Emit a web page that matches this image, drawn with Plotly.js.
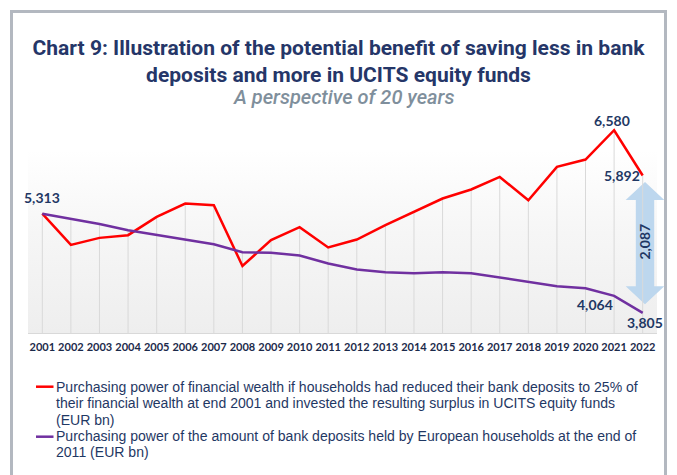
<!DOCTYPE html>
<html>
<head>
<meta charset="utf-8">
<script src="https://cdn.plot.ly/plotly-3.0.1.min.js"></script>
<style>
  html, body { margin: 0; padding: 0; background: #ffffff; }
  #wrap { position: relative; width: 677px; height: 475px; overflow: hidden; background: #ffffff; }
  #frame { position: absolute; left: 10px; top: 10px; width: 657px; height: 520px; border: 3px solid #b3b8c0; box-sizing: border-box; }
  #grad { position: absolute; left: 28px; top: 150px; width: 629px; height: 183px;
          background: linear-gradient(to bottom, #ffffff 0%, #f6f6f6 45%, #eeeeee 100%); }
  #chart { position: absolute; left: 0; top: 0; width: 677px; height: 475px; }
</style>
</head>
<body>
<div id="wrap">
  <div id="frame"></div>
  <div id="grad"></div>
  <div id="chart"></div>
</div>
<script>
// ---- data ----
const years = [2001, 2002, 2003, 2004, 2005, 2006, 2007, 2008, 2009, 2010, 2011,
               2012, 2013, 2014, 2015, 2016, 2017, 2018, 2019, 2020, 2021, 2022];
const investedWealth = [5313, 4838, 4945, 4986, 5264, 5467, 5441, 4519, 4910, 5107, 4799,
                        4920, 5137, 5340, 5543, 5680, 5871, 5517, 6023, 6135, 6580, 5892];
const bankDeposits = [5313, 5239, 5157, 5062, 4990, 4910, 4849, 4727, 4720, 4677, 4556,
                      4465, 4424, 4408, 4424, 4408, 4343, 4272, 4211, 4181, 4064, 3805];
const investedLines = ['Purchasing power of financial wealth if households had reduced their bank deposits to 25% of',
                       'their financial wealth at end 2001 and invested the resulting surplus in UCITS equity funds',
                       '(EUR bn)'];
const depositsLines = ['Purchasing power of the amount of bank deposits held by European households at the end of',
                       '2011 (EUR bn)'];
const titleText = 'Chart 9: Illustration of the potential benefit of saving less in bank<br>deposits and more in UCITS equity funds';
const subtitleText = 'A perspective of 20 years';

// ---- layout geometry ----
const W = 677, H = 475;
const M = { l: 28, r: 20, t: 110, b: 142 };
const plotW = W - M.l - M.r, plotH = H - M.t - M.b;
const yMin = 3500, pxPerUnit = 1 / 15.19;
const yMax = yMin + plotH / pxPerUnit;
const px = x => (x - M.l) / plotW;          // page px -> paper x
const py = y => (H - M.b - y) / plotH;      // page px -> paper y

const navy = '#1f3864';
const fmt = v => v.toLocaleString('en-US');

function fitSize(text, family, weight, style, base, target) {
  const c = document.createElement('canvas').getContext('2d');
  c.font = style + ' ' + weight + ' ' + base + 'px ' + family;
  return base * target / c.measureText(text).width;
}
const titleFamily = "'Liberation Sans Narrow', Roboto, sans-serif";
const titleSize = Math.min(21.5, fitSize('Chart 9: Illustration of the potential benefit of saving less in bank', titleFamily, 'bold', 'normal', 20, 612));
const subFamily = "Roboto, 'Liberation Sans', sans-serif";
const subSize = Math.min(20, fitSize(subtitleText, subFamily, '500', 'italic', 18, 242));
const legFamily = "'Liberation Sans', Arial, sans-serif";
const legSize = fitSize(investedLines[0], legFamily, 'normal', 'normal', 13, 582);
const lblFamily = "Lato, 'Open Sans', sans-serif";

// ---- traces ----
const dropX = [], dropY = [];
years.forEach((yr, i) => {
  dropX.push(yr, yr, null);
  dropY.push(yMin, Math.max(investedWealth[i], bankDeposits[i]), null);
});

const traces = [
  { x: dropX, y: dropY, type: 'scatter', mode: 'lines', line: { color: '#d9d9d9', width: 1 },
    hoverinfo: 'skip', showlegend: false },
  { x: years, y: investedWealth, type: 'scatter', mode: 'lines', name: investedLines.join(' '),
    line: { color: '#ff0000', width: 2.5 }, showlegend: false },
  { x: years, y: bankDeposits, type: 'scatter', mode: 'lines', name: depositsLines.join(' '),
    line: { color: '#7030a0', width: 2.5 }, showlegend: false }
];

// ---- annotations ----
const n = years.length;
const lblFont = { family: lblFamily, size: 14, color: navy, weight: 'bold' };
function dataLabel(i, series, dx, dy) {
  return { x: years[i], y: series[i], xref: 'x', yref: 'y', text: fmt(series[i]), showarrow: false,
           xanchor: 'center', yanchor: 'middle', xshift: dx, yshift: dy, font: lblFont };
}
const gap = investedWealth[n - 1] - bankDeposits[n - 1];
const annotations = [
  dataLabel(0, investedWealth, 0, 16),
  dataLabel(n - 2, investedWealth, -2, 10),
  dataLabel(n - 1, investedWealth, -21, 0),
  dataLabel(n - 2, bankDeposits, -19, -9),
  dataLabel(n - 1, bankDeposits, 2, -10),
  { x: px(645), y: (investedWealth[n - 1] + bankDeposits[n - 1]) / 2 + 40, xref: 'paper', yref: 'y',
    text: fmt(gap), textangle: -90, showarrow: false, xanchor: 'center', yanchor: 'middle', font: lblFont },
  { x: px(344), y: py(97), xref: 'paper', yref: 'paper', text: subtitleText, showarrow: false,
    xanchor: 'center', yanchor: 'middle',
    font: { family: subFamily, size: subSize, color: '#7f8f9c', style: 'italic', weight: 500 } }
];
// legend text lines (baselines)
const legBase = [[391.7, 407.9, 424.3], [440.7, 457.1]];
[investedLines, depositsLines].forEach((lines, k) => {
  lines.forEach((t, j) => {
    annotations.push({ x: px(54), y: py(legBase[k][j] - 0.33 * legSize), xref: 'paper', yref: 'paper',
      text: t, showarrow: false, xanchor: 'left', yanchor: 'middle', align: 'left',
      font: { family: legFamily, size: legSize, color: navy } });
  });
});

// ---- shapes: gap arrow and legend keys ----
const ac = px(645), hw = 19.3 / plotW, sw = 9.2 / plotW;
const topTip = investedWealth[n - 1] - 97, topBase = topTip - 18 / pxPerUnit;
const botTip = bankDeposits[n - 1] + 132, botBase = botTip + 18 / pxPerUnit;
const arrowPath = 'M' + (ac - hw) + ',' + topBase + ' L' + ac + ',' + topTip + ' L' + (ac + hw) + ',' + topBase +
  ' L' + (ac + sw) + ',' + topBase + ' L' + (ac + sw) + ',' + botBase + ' L' + (ac + hw) + ',' + botBase +
  ' L' + ac + ',' + botTip + ' L' + (ac - hw) + ',' + botBase + ' L' + (ac - sw) + ',' + botBase +
  ' L' + (ac - sw) + ',' + topBase + ' Z';
const shapes = [
  { type: 'path', xref: 'paper', yref: 'y', path: arrowPath, fillcolor: '#bdd7ee', line: { width: 0 }, layer: 'below' },
  { type: 'line', xref: 'paper', yref: 'paper', x0: px(36), x1: px(53.5), y0: py(386.7), y1: py(386.7),
    line: { color: '#ff0000', width: 2.5 } },
  { type: 'line', xref: 'paper', yref: 'paper', x0: px(36), x1: px(53.5), y0: py(436.7), y1: py(436.7),
    line: { color: '#7030a0', width: 2.5 } }
];

const layout = {
  width: W, height: H,
  margin: M,
  paper_bgcolor: 'rgba(0,0,0,0)',
  plot_bgcolor: 'rgba(0,0,0,0)',
  showlegend: false,
  title: { text: titleText, x: 0.5, xref: 'container', xanchor: 'center',
           y: 1 - 55 / H, yref: 'container', yanchor: 'top',
           font: { family: titleFamily, size: titleSize, color: '#253668', weight: 'bold' } },
  xaxis: { range: [2000.5, 2022.5], tickvals: years, ticktext: years.map(String),
           showgrid: false, zeroline: false, showline: true, linecolor: '#d9d9d9', linewidth: 1,
           ticks: '', ticklabelstandoff: 4,
           tickfont: { family: lblFamily, size: 11, color: '#1b2a4a', weight: 'bold' },
           fixedrange: true },
  yaxis: { range: [yMin, yMax], visible: false, showgrid: false, zeroline: false, fixedrange: true },
  annotations: annotations,
  shapes: shapes
};

Plotly.newPlot('chart', traces, layout, { displayModeBar: false, staticPlot: true });
</script>
</body>
</html>
